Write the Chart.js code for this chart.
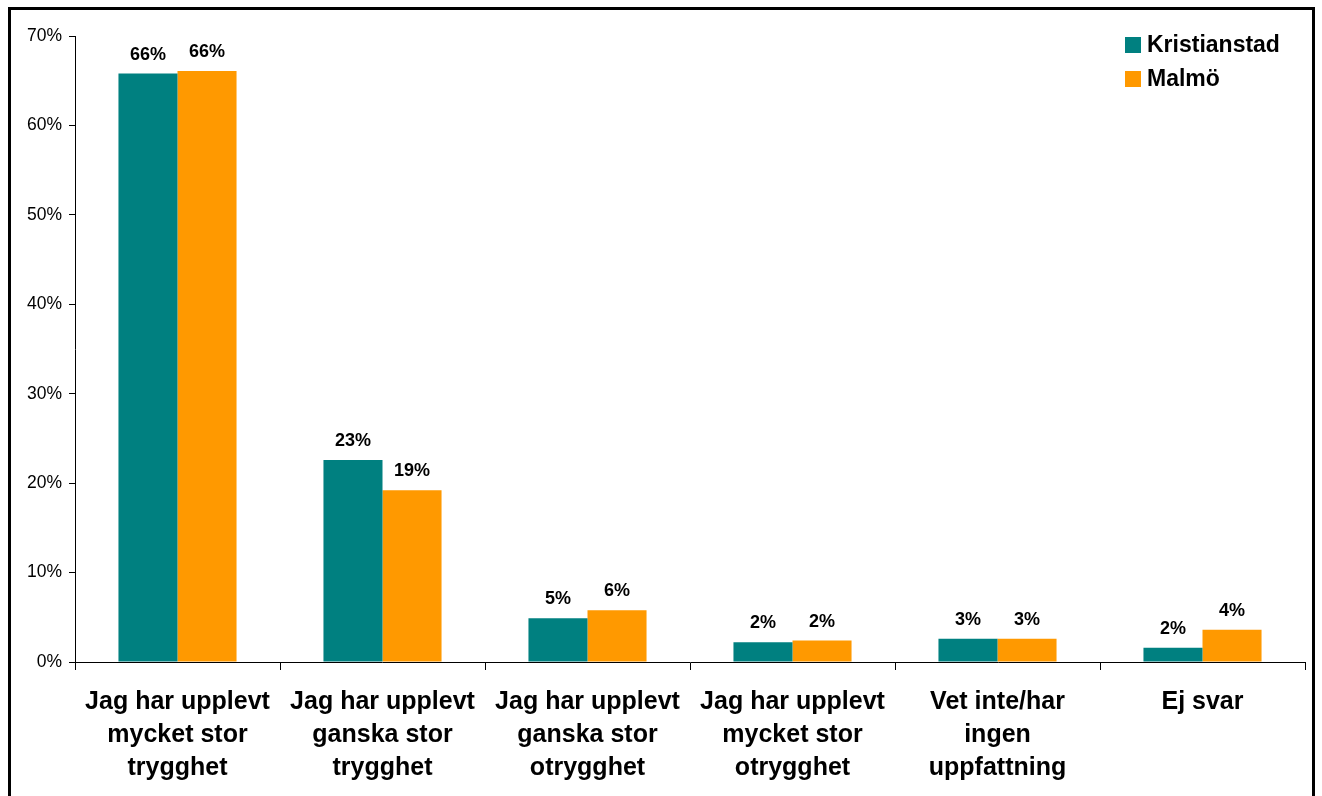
<!DOCTYPE html>
<html>
<head>
<meta charset="utf-8">
<script src="https://cdn.jsdelivr.net/npm/chart.js@4"></script>
<style>
  html, body { margin: 0; padding: 0; background: #fff; }
  #wrap { position: relative; width: 1322px; height: 796px; overflow: hidden; }
  #frame { position: absolute; left: 8px; top: 7px; width: 1301px; height: 820px; border: 3px solid #000; }
  #chart { position: absolute; left: 0; top: 0; }
</style>
</head>
<body>
<div id="wrap">
  <div id="frame"></div>
  <canvas id="chart" width="1322" height="796"></canvas>
</div>
<script>
const categories = [
  ['Jag har upplevt', 'mycket stor', 'trygghet'],
  ['Jag har upplevt', 'ganska stor', 'trygghet'],
  ['Jag har upplevt', 'ganska stor', 'otrygghet'],
  ['Jag har upplevt', 'mycket stor', 'otrygghet'],
  ['Vet inte/har', 'ingen', 'uppfattning'],
  ['Ej svar']
];
const kristianstad = [65.8, 22.6, 4.9, 2.2, 2.6, 1.6];
const malmo = [66.1, 19.2, 5.8, 2.4, 2.6, 3.6];
const seriesNames = ['Kristianstad', 'Malmö'];
const seriesColors = ['#008080', '#FF9900'];

const FONT = "'Liberation Sans', Arial, sans-serif";

// value labels above each bar
const barLabels = {
  id: 'barLabels',
  afterDatasetsDraw(chart) {
    const ctx = chart.ctx;
    ctx.save();
    ctx.font = 'bold 18px ' + FONT;
    ctx.fillStyle = '#000';
    ctx.textAlign = 'center';
    ctx.textBaseline = 'bottom';
    chart.data.datasets.forEach((ds, i) => {
      chart.getDatasetMeta(i).data.forEach((bar, j) => {
        ctx.fillText(Math.round(ds.data[j]) + '%', bar.x, bar.y - 10);
      });
    });
    ctx.restore();
  }
};

// legend in the top right of the plot area
const boxLegend = {
  id: 'boxLegend',
  afterDraw(chart) {
    const ctx = chart.ctx;
    ctx.save();
    ctx.font = 'bold 23px ' + FONT;
    ctx.textBaseline = 'middle';
    ctx.textAlign = 'left';
    chart.data.datasets.forEach((ds, i) => {
      const y = 37 + i * 34;
      ctx.fillStyle = ds.backgroundColor;
      ctx.fillRect(1125, y, 16, 16);
      ctx.fillStyle = '#000';
      ctx.fillText(ds.label, 1147, y + 9);
    });
    ctx.restore();
  }
};

new Chart(document.getElementById('chart'), {
  type: 'bar',
  data: {
    labels: categories,
    datasets: [
      { label: seriesNames[0], data: kristianstad, backgroundColor: seriesColors[0] },
      { label: seriesNames[1], data: malmo, backgroundColor: seriesColors[1] }
    ]
  },
  options: {
    responsive: false,
    animation: false,
    layout: { padding: { left: 0, right: 17, top: 36, bottom: 0 } },
    datasets: { bar: { categoryPercentage: 0.576, barPercentage: 1 } },
    plugins: { legend: { display: false }, tooltip: { enabled: false } },
    scales: {
      x: {
        afterFit(scale) { scale.height = 134; },
        border: { display: true, color: '#000', width: 1 },
        grid: { offset: true, drawOnChartArea: false, drawTicks: true, tickLength: 8, color: '#000' },
        ticks: {
          color: '#000',
          padding: 16,
          maxRotation: 0,
          autoSkip: false,
          font: { family: FONT, size: 25, weight: 'bold', lineHeight: 1.32 }
        }
      },
      y: {
        min: 0,
        max: 70,
        afterFit(scale) { scale.width = 75; },
        border: { display: true, color: '#000', width: 1 },
        grid: { drawOnChartArea: false, drawTicks: true, tickLength: 6, color: '#000' },
        ticks: {
          stepSize: 10,
          color: '#000',
          padding: 7,
          font: { family: FONT, size: 17.5 },
          callback: v => v + '%'
        }
      }
    }
  },
  plugins: [barLabels, boxLegend]
});
</script>
</body>
</html>
